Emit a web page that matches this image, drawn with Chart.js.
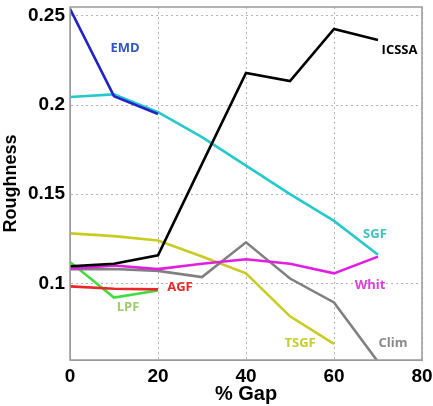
<!DOCTYPE html>
<html>
<head>
<meta charset="utf-8">
<script src="https://cdn.jsdelivr.net/npm/chart.js@4"></script>
<style>
  html, body { margin:0; padding:0; background:#fff; }
  #wrap { width:433px; height:406px; }
</style>
</head>
<body>
<div id="wrap"><canvas id="c" width="433" height="406"></canvas></div>
<script>
// % gap on x, roughness on y
const gapPct = [0, 10, 20, 30, 40, 50, 60, 70];
const xTicks = [0, 20, 40, 60, 80];
const yTicks = [0.1, 0.15, 0.2, 0.25];

const emd   = [0.254, 0.205, 0.195];
const sgf   = [0.2045, 0.206, 0.196, 0.182, 0.166, 0.150, 0.135, 0.116];
const icssa = [0.1095, 0.111, 0.1157, 0.167, 0.218, 0.2135, 0.2427, 0.2365];
const whit  = [0.108, 0.110, 0.108, 0.111, 0.1135, 0.111, 0.1056, 0.115];
const clim  = [0.108, 0.108, 0.107, 0.1035, 0.123, 0.1027, 0.0893, 0.056];
const tsgf  = [0.128, 0.1265, 0.124, 0.115, 0.1056, 0.0815, 0.066];
const agf   = [0.0983, 0.097, 0.0966];
const lpf   = [0.112, 0.092, 0.096];

// name, values, line colour, label colour, label anchor (data units)
const series = [
  ['EMD',   emd,   '#2323c8', '#2f55c8', 12.5, 0.232],
  ['ICSSA', icssa, '#000000', '#000000', 74.9, 0.2306],
  ['SGF',   sgf,   '#25c8cc', '#3fc0c0', 69.3, 0.1275],
  ['Whit',  whit,  '#e020e0', '#e040d8', 68.2, 0.0989],
  ['Clim',  clim,  '#808080', '#8a8a8a', 73.4, 0.0662],
  ['TSGF',  tsgf,  '#c8cc20', '#c4cc30', 52.3, 0.0662],
  ['AGF',   agf,   '#e82828', '#e82828', 25,   0.0977],
  ['LPF',   lpf,   '#40dd40', '#9ccc6c', 13.2, 0.0865]
];

const datasets = series.map(([name, vals, col]) => ({
  label: name,
  data: vals.map((v, i) => ({ x: gapPct[i], y: v })),
  borderColor: col,
  borderWidth: 2.6,
  pointRadius: 0,
  tension: 0,
  fill: false
}));

const frame = {
  id: 'frame',
  afterDatasetsDraw(chart) {
    const { ctx, chartArea: a } = chart;
    ctx.save();
    ctx.strokeStyle = '#9a9a9a';
    ctx.lineWidth = 1.5;
    ctx.strokeRect(a.left, a.top, a.right - a.left, a.bottom - a.top);
    ctx.restore();
  }
};

const tags = {
  id: 'tags',
  afterDraw(chart) {
    const { ctx, scales: { x, y } } = chart;
    ctx.save();
    ctx.font = 'bold 13px "Open Sans", sans-serif';
    ctx.textAlign = 'center';
    ctx.textBaseline = 'middle';
    series.forEach(([name, , , lc, lx, ly]) => {
      ctx.fillStyle = lc;
      ctx.fillText(name, x.getPixelForValue(lx), y.getPixelForValue(ly));
    });
    ctx.restore();
  }
};

const tickFont = { family: 'Liberation Sans', size: 19, weight: 'bold' };

new Chart(document.getElementById('c'), {
  type: 'line',
  data: { datasets },
  plugins: [frame, tags],
  options: {
    responsive: false,
    animation: false,
    layout: { padding: { top: 7, right: 11, left: 0, bottom: 0 } },
    plugins: { legend: { display: false }, tooltip: { enabled: false } },
    scales: {
      x: {
        type: 'linear', min: 0, max: 80,
        afterBuildTicks: s => { s.ticks = xTicks.map(v => ({ value: v })); },
        afterFit: s => { s.height = 46; s.paddingLeft = 0; s.paddingRight = 0; },
        ticks: { color: '#000', padding: 5, maxRotation: 0, font: tickFont },
        grid: { color: '#b4b4b4', drawTicks: false },
        border: { dash: [2, 3], color: '#9a9a9a' },
        title: { display: true, text: '% Gap', color: '#000', padding: { top: 0, bottom: 0 }, font: { family: 'Liberation Sans', size: 20, weight: 'bold' } }
      },
      y: {
        min: 0.057, max: 0.255,
        afterBuildTicks: s => { s.ticks = yTicks.map(v => ({ value: v })); },
        afterFit: s => { s.width = 70; s.paddingTop = 0; s.paddingBottom = 0; },
        ticks: { color: '#000', padding: 5, callback: v => String(v), font: tickFont },
        grid: { color: '#b4b4b4', drawTicks: false },
        border: { dash: [2, 3], color: '#9a9a9a' },
        title: { display: true, text: 'Roughness', color: '#000', padding: { top: 0, bottom: 0 }, font: { family: 'Liberation Sans', size: 18, weight: 'bold' } }
      }
    }
  }
});
</script>
</body>
</html>
